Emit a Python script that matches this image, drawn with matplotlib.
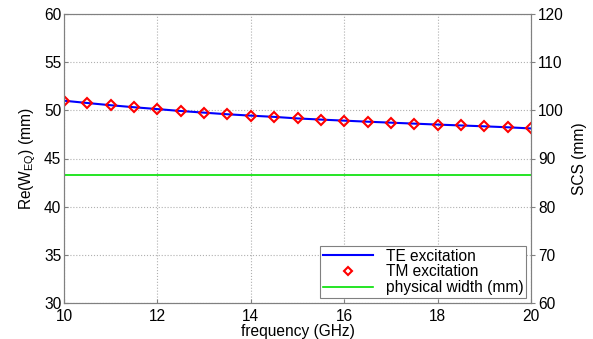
import numpy as np
import matplotlib.pyplot as plt

plt.rcParams['font.family'] = ['Liberation Sans', 'DejaVu Sans']
plt.rcParams['font.size'] = 11.2

freq = np.arange(10, 20.01, 0.5)
w_te = [51.0, 50.76, 50.53, 50.32, 50.13, 49.93, 49.76, 49.59, 49.45, 49.32, 49.16,
        49.04, 48.93, 48.82, 48.72, 48.62, 48.52, 48.43, 48.34, 48.24, 48.12]
w_tm = w_te
phys_width = 43.3

fig = plt.figure(figsize=(5.93, 3.39), dpi=100)
ax = fig.add_axes([64 / 593, 1 - 303 / 339, (531 - 64) / 593, (303 - 14) / 339])

ax.plot(freq, w_te, color='blue', lw=1.5, label='TE excitation')
ax.plot(freq, w_tm, ls='none', marker='D', ms=5, mfc='none', mec='red', mew=1.5,
        label='TM excitation')
ax.plot([10, 20], [phys_width, phys_width], color='#00e000', lw=1.2, label='physical width (mm)')

ax.set_xlim(10, 20)
ax.set_ylim(30, 60)
ax.set_xticks(np.arange(10, 21, 2))
ax.set_yticks(np.arange(30, 61, 5))
ax.grid(True, ls=':', color='#b0b0b0', lw=0.8)
ax.tick_params(direction='in', length=3, color='#808080', pad=2)
ax.tick_params(axis='x', pad=4)
for s in ax.spines.values():
    s.set_color('#808080')
ax.set_xlabel('frequency (GHz)', labelpad=0)
ax.set_ylabel(r'Re(W$_{\mathregular{EQ}}$) (mm)', labelpad=4)

ax2 = ax.twinx()
ax2.set_ylim(60, 120)
ax2.set_yticks(np.arange(60, 121, 10))
ax2.tick_params(direction='out', length=3, color='#808080', pad=2)
for s in ax2.spines.values():
    s.set_color('#808080')
ax2.set_ylabel('SCS (mm)', labelpad=6)

leg = ax.legend(loc='lower right', fancybox=False, edgecolor='#808080', framealpha=1,
                handlelength=3.2, borderaxespad=0.3, borderpad=0.2, labelspacing=0.05,
                markerscale=0.8)
leg.get_frame().set_linewidth(0.8)

fig.savefig('out.png', dpi=100)
